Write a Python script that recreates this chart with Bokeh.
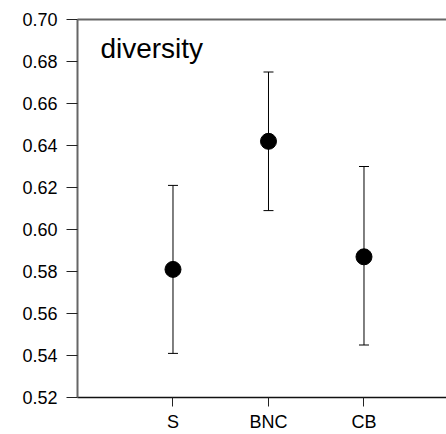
from bokeh.plotting import figure
from bokeh.models import Range1d, FixedTicker, Whisker, ColumnDataSource, LinearAxis, Label, TeeHead
from bokeh.embed import file_html
from bokeh.resources import INLINE

categories = ["S", "BNC", "CB"]
positions = [1, 2, 3]
means = [0.581, 0.642, 0.587]
upper = [0.621, 0.675, 0.630]
lower = [0.541, 0.609, 0.545]
y_ticks = [0.52, 0.54, 0.56, 0.58, 0.60, 0.62, 0.64, 0.66, 0.68, 0.70]

FONT = "Liberation Sans"

p = figure(width=446, height=434, output_backend="svg", toolbar_location=None,
           x_range=Range1d(0, 3.864), y_range=Range1d(0.52, 0.70),
           min_border_left=77, min_border_right=0, min_border_top=19, min_border_bottom=35)
p.outline_line_color = None
p.grid.visible = False
p.background_fill_color = "white"
p.border_fill_color = "white"

src = ColumnDataSource(dict(x=positions, y=means, upper=upper, lower=lower))

w = Whisker(source=src, base="x", upper="upper", lower="lower", line_color="black", line_width=1,
            upper_head=TeeHead(size=10, line_color="black", line_width=1),
            lower_head=TeeHead(size=10, line_color="black", line_width=1))
p.add_layout(w)
p.scatter("x", "y", source=src, size=16, color="black")

# y axis
ya = p.yaxis[0]
ya.ticker = FixedTicker(ticks=y_ticks)
ya.minor_tick_line_color = None
ya.major_tick_in = 0
ya.major_tick_out = 11
ya.major_tick_line_color = "#222222"
ya.axis_line_color = "#666666"
ya.axis_line_width = 2
ya.major_label_standoff = 9
ya.major_label_text_font = FONT
ya.major_label_text_font_size = "18px"
ya.major_label_text_color = "#000000"
ya.major_label_overrides = {t: f"{t:.2f}" for t in y_ticks}

# x axis
xa = p.xaxis[0]
xa.ticker = FixedTicker(ticks=positions)
xa.major_label_overrides = {pos: c for pos, c in zip(positions, categories)}
xa.minor_tick_line_color = None
xa.major_tick_in = 0
xa.major_tick_out = 9
xa.major_tick_line_color = "#222222"
xa.axis_line_color = "#111111"
xa.axis_line_width = 1.5
xa.major_label_standoff = 5
xa.major_label_text_font = FONT
xa.major_label_text_font_size = "18px"
xa.major_label_text_color = "#000000"

# top border line
top = LinearAxis(ticker=FixedTicker(ticks=[]), axis_line_color="#666666", axis_line_width=2,
                 major_tick_line_color=None, minor_tick_line_color=None,
                 major_label_text_font_size="0px")
p.add_layout(top, "above")

p.add_layout(Label(x=0.24, y=0.6863, text="diversity", text_font=FONT,
                   text_font_size="28px", text_color="#000000", text_baseline="alphabetic"))

open("out.html", "w").write(file_html(p, INLINE))
